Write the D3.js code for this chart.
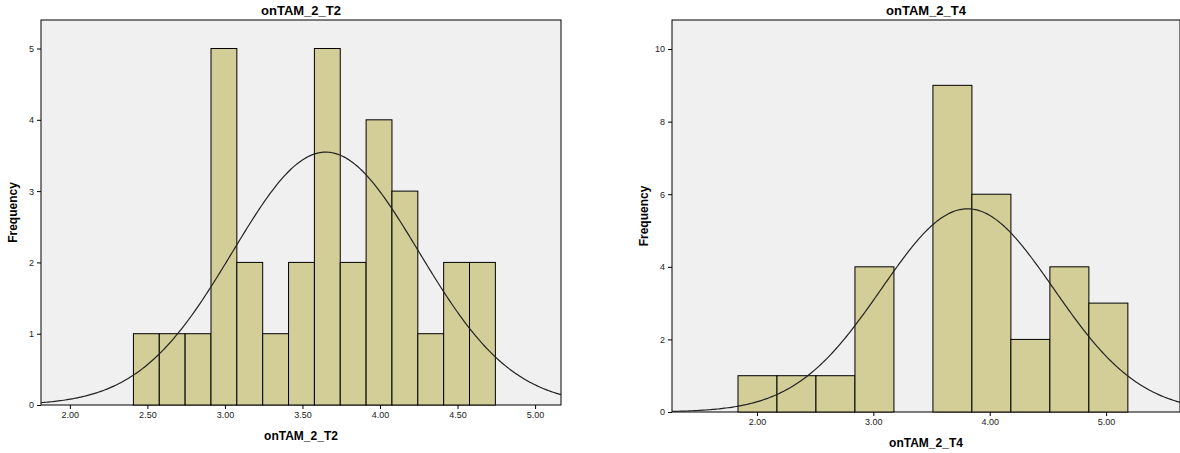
<!DOCTYPE html>
<html><head><meta charset="utf-8">
<script src="https://cdn.jsdelivr.net/npm/d3@7"></script>
<style>body{margin:0;background:#fff}svg text{font-family:Arial,"Liberation Sans",sans-serif}</style>
</head><body><svg id="c" width="1180" height="453"></svg>
<script>
// chart 1
const t2Start = 2.41, t2Width = 0.1667;
const t2Counts = [1, 1, 1, 5, 2, 1, 2, 5, 2, 4, 3, 1, 2, 2];
const t2Ticks = ["2.00", "2.50", "3.00", "3.50", "4.00", "4.50", "5.00"];
const t2Y = [0, 1, 2, 3, 4, 5];
const t2Mean = 3.65, t2Sd = 0.6;
// chart 2
const t4Start = 1.837, t4Width = 0.335;
const t4Counts = [1, 1, 1, 4, 0, 9, 6, 2, 4, 3];
const t4Ticks = ["2.00", "3.00", "4.00", "5.00"];
const t4Y = [0, 2, 4, 6, 8, 10];
const t4Mean = 3.81, t4Sd = 0.74;

const svg = d3.select("#c");

function hist(o) {
  const g = svg.append("g");
  const x = d3.scaleLinear().domain(o.xd).range([o.l, o.r]);
  const y = d3.scaleLinear().domain(o.yd).range([o.b, o.t]);
  g.append("rect").attr("x", o.l).attr("y", o.t).attr("width", o.r - o.l).attr("height", o.b - o.t)
    .attr("fill", "#f0f0f0").attr("stroke", "#000").attr("stroke-width", 1);
  const n = d3.sum(o.counts);
  o.counts.forEach((c, i) => {
    if (!c) return;
    const x0 = o.start + i * o.w;
    g.append("rect").attr("x", x(x0)).attr("y", y(c)).attr("width", x(x0 + o.w) - x(x0))
      .attr("height", y(0) - y(c)).attr("fill", "#d3ce98").attr("stroke", "#000").attr("stroke-width", 1);
  });
  const pts = d3.range(0, 301).map(k => {
    const v = o.xd[0] + (o.xd[1] - o.xd[0]) * k / 300;
    return [v, n * o.w / (o.sd * Math.sqrt(2 * Math.PI)) * Math.exp(-0.5 * ((v - o.mean) / o.sd) ** 2)];
  });
  g.append("path").attr("d", d3.line().x(d => x(d[0])).y(d => y(d[1]))(pts))
    .attr("fill", "none").attr("stroke", "#222").attr("stroke-width", 1.2);
  g.append("g").attr("transform", `translate(0,${o.b})`)
    .call(d3.axisBottom(x).tickValues(o.xt.map(Number)).tickFormat(d3.format(".2f")).tickSize(4).tickSizeOuter(0))
    .call(a => { a.select(".domain").remove(); a.selectAll("text").attr("font-size", 9).attr("fill", "#222"); });
  g.append("g").attr("transform", `translate(${o.l},0)`)
    .call(d3.axisLeft(y).tickValues(o.yt).tickFormat(d3.format("d")).tickSize(4).tickSizeOuter(0))
    .call(a => { a.select(".domain").remove(); a.selectAll("text").attr("font-size", 9).attr("fill", "#222"); });
  g.append("text").attr("x", (o.l + o.r) / 2).attr("y", o.t - 5).attr("text-anchor", "middle")
    .attr("font-size", 13).attr("font-weight", "bold").text(o.title);
  g.append("text").attr("x", (o.l + o.r) / 2).attr("y", o.b + 35).attr("text-anchor", "middle")
    .attr("font-size", 12).attr("font-weight", "bold").text(o.title);
  g.append("text").attr("transform", `translate(${o.l - 24},${(o.t + o.b) / 2}) rotate(-90)`)
    .attr("text-anchor", "middle").attr("font-size", 12).attr("font-weight", "bold").text("Frequency");
}

hist({l: 41, r: 561, t: 20, b: 405, xd: [1.814, 5.167], yd: [0, 5.4], start: t2Start, w: t2Width,
  counts: t2Counts, xt: t2Ticks, yt: t2Y, mean: t2Mean, sd: t2Sd, title: "onTAM_2_T2"});
hist({l: 672, r: 1180, t: 20, b: 412, xd: [1.27, 5.635], yd: [0, 10.8], start: t4Start, w: t4Width,
  counts: t4Counts, xt: t4Ticks, yt: t4Y, mean: t4Mean, sd: t4Sd, title: "onTAM_2_T4"});
</script></body></html>
